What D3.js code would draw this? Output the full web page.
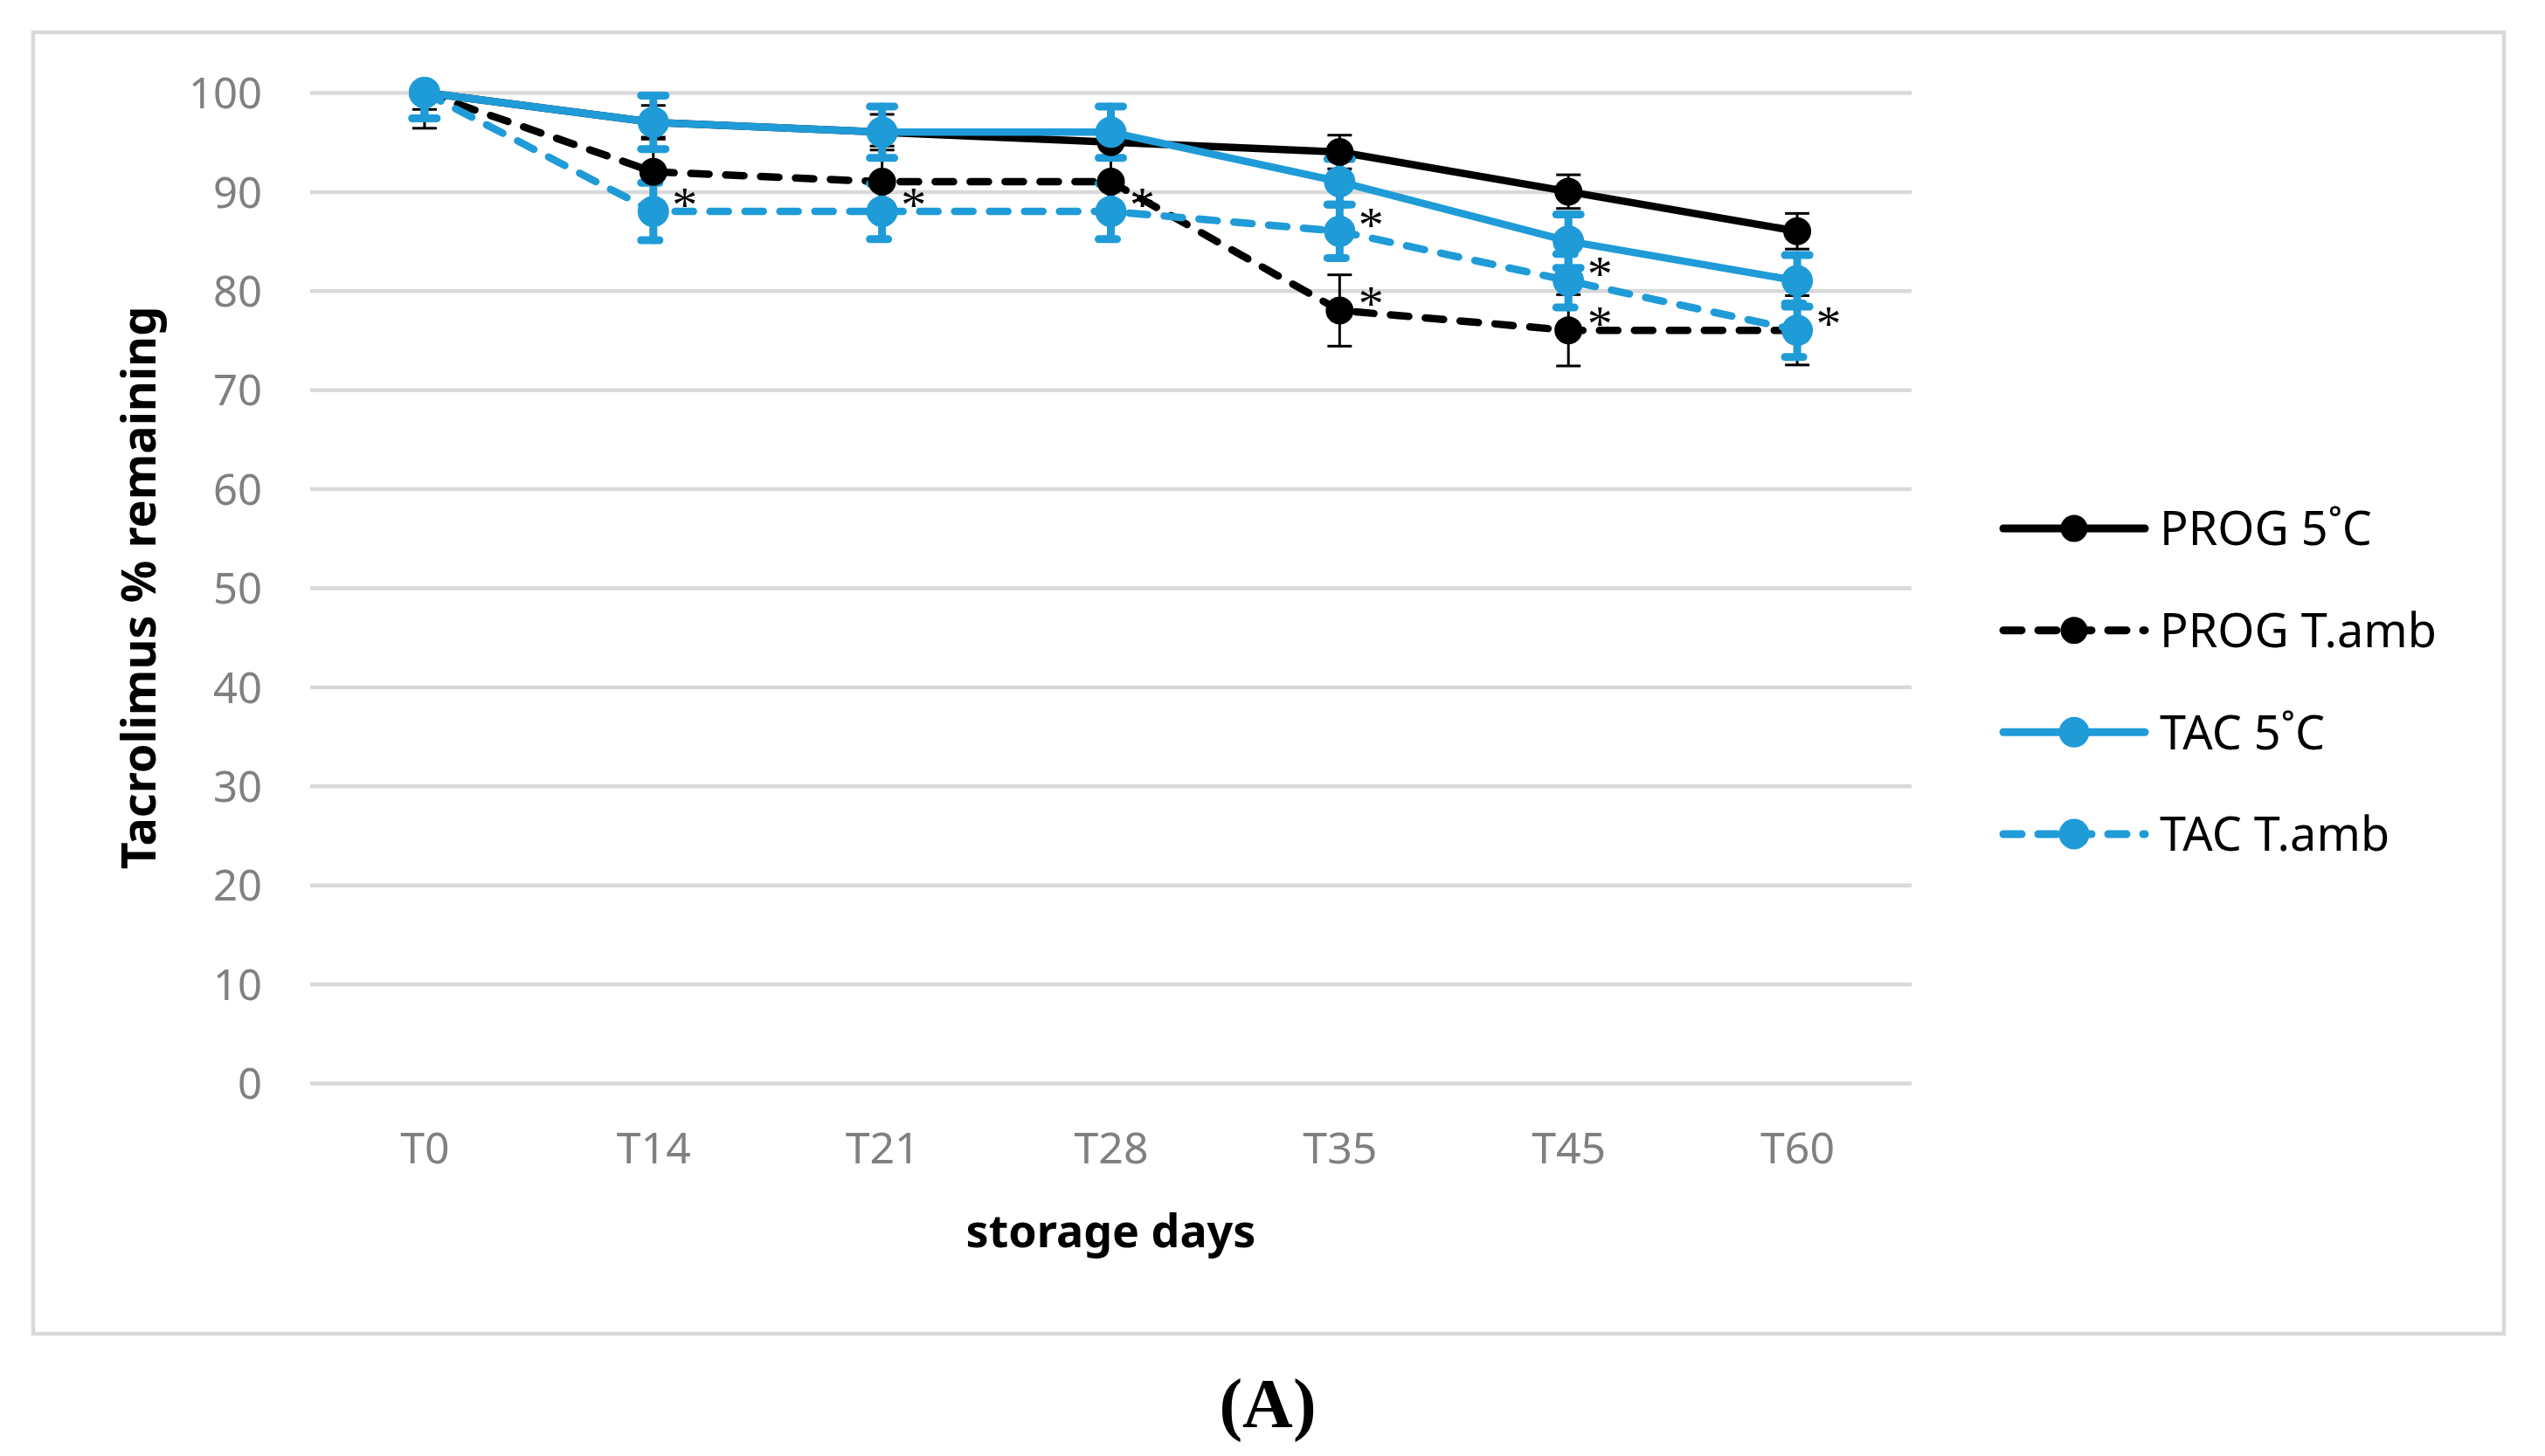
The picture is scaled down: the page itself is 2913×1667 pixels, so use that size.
<!DOCTYPE html>
<html>
<head>
<meta charset="utf-8">
<script src="https://cdn.jsdelivr.net/npm/d3@7"></script>
<style>
  body { margin: 0; background: #fff; }
  #chart svg { display: block; }
</style>
</head>
<body>
<div id="chart"></div>
<script>
// data
const categories = ["T0", "T14", "T21", "T28", "T35", "T45", "T60"];
const yTicks = [0, 10, 20, 30, 40, 50, 60, 70, 80, 90, 100];

const prog5 = [100, 97, 96, 95, 94, 90, 86];
const prog5Err = [1.7, 1.7, 1.8, 1.7, 1.7, 1.7, 1.8];
const progAmb = [100, 92, 91, 91, 78, 76, 76];
const progAmbErr = [3.6, 3.5, 3.6, 3.6, 3.6, 3.6, 3.5];
const tac5 = [100, 97, 96, 96, 91, 85, 81];
const tac5Err = [2.6, 2.7, 2.6, 2.6, 2.3, 2.7, 2.6];
const tacAmb = [100, 88, 88, 88, 86, 81, 76];
const tacAmbErr = [2.6, 2.9, 2.8, 2.8, 2.7, 2.7, 2.7];

const seriesNames = ["PROG 5˚C", "PROG T.amb", "TAC 5˚C", "TAC T.amb"];

// significance marks (series, day)
const starSeries = ["TAC T.amb", "TAC T.amb", "TAC T.amb", "TAC T.amb", "PROG T.amb", "TAC T.amb", "PROG T.amb", "TAC T.amb"];
const starDays = ["T14", "T21", "T28", "T35", "T35", "T45", "T45", "T60"];

const BLUE = "#1f9bd7";
const GRID = "#d9d9d9";
const SANS = "'Noto Sans', sans-serif";
const SERIF = "'Liberation Serif', 'Times New Roman', serif";

const series = [
  { name: seriesNames[0], values: prog5, err: prog5Err, color: "#000", dash: null, r: 16, thinErr: true },
  { name: seriesNames[1], values: progAmb, err: progAmbErr, color: "#000", dash: "21,19", r: 16, thinErr: true },
  { name: seriesNames[2], values: tac5, err: tac5Err, color: BLUE, dash: null, r: 18, thinErr: false },
  { name: seriesNames[3], values: tacAmb, err: tacAmbErr, color: BLUE, dash: "21,19", r: 18, thinErr: false }
];

// 1) SVG
const width = 2913;
const height = 1667;
const plot = { left: 355, right: 2188, top: 106, bottom: 1240 };

const svg = d3
  .select("#chart")
  .append("svg")
  .attr("width", width)
  .attr("height", height)
  .style("font-family", SANS);

svg.append("rect").attr("width", width).attr("height", height).attr("fill", "#fff");

// chart frame
svg
  .append("rect")
  .attr("x", 38)
  .attr("y", 37)
  .attr("width", 2866 - 38)
  .attr("height", 1527 - 37)
  .attr("fill", "none")
  .attr("stroke", GRID)
  .attr("stroke-width", 4.5);

// 2) Scales
const x = d3.scalePoint().domain(categories).range([plot.left, plot.right]).padding(0.5);
const y = d3.scaleLinear().domain([0, 100]).range([plot.bottom, plot.top]);

// 3) Gridlines + y labels
const yAxis = svg
  .append("g")
  .attr("transform", `translate(${plot.left},0)`)
  .call(
    d3.axisLeft(y)
      .tickValues(yTicks)
      .tickSize(-(plot.right - plot.left))
      .tickPadding(55)
  );
yAxis.select(".domain").remove();
yAxis.selectAll("line").attr("stroke", GRID).attr("stroke-width", 4.5);
yAxis
  .selectAll("text")
  .attr("fill", "#808080")
  .style("font-family", SANS)
  .style("font-size", "49px")
  .attr("dy", "0.36em");

// 4) x labels
const xAxis = svg
  .append("g")
  .attr("transform", `translate(0,${plot.bottom})`)
  .call(d3.axisBottom(x).tickSize(0).tickPadding(56));
xAxis.select(".domain").remove();
xAxis
  .selectAll("text")
  .attr("fill", "#808080")
  .style("font-family", SANS)
  .style("font-size", "50px");

// 5) Axis titles
svg
  .append("text")
  .attr("x", (plot.left + plot.right) / 2)
  .attr("y", 1428)
  .attr("text-anchor", "middle")
  .style("font-size", "52px")
  .style("font-weight", "bold")
  .text("storage days");

svg
  .append("text")
  .attr("transform", `translate(178,${(plot.top + plot.bottom) / 2}) rotate(-90)`)
  .attr("text-anchor", "middle")
  .style("font-size", "54px")
  .style("font-weight", "bold")
  .text("Tacrolimus % remaining");

// 6) Asterisks (under the series)
svg
  .append("g")
  .selectAll("text")
  .data(starDays.map((d, i) => ({ day: d, s: series.find((s) => s.name === starSeries[i]) })))
  .join("text")
  .attr("x", (d) => x(d.day) + 36)
  .attr("y", (d) => y(d.s.values[categories.indexOf(d.day)]) + 12)
  .attr("text-anchor", "middle")
  .style("font-family", SERIF)
  .style("font-size", "58px")
  .text("*");

// 7) Lines
const line = d3
  .line()
  .x((d, i) => x(categories[i]))
  .y((d) => y(d));

svg
  .append("g")
  .selectAll("path")
  .data(series)
  .join("path")
  .attr("d", (s) => line(s.values))
  .attr("fill", "none")
  .attr("stroke", (s) => s.color)
  .attr("stroke-width", 8.5)
  .attr("stroke-linecap", "round")
  .attr("stroke-linejoin", "round")
  .attr("stroke-dasharray", (s) => s.dash);

// 8) Error bars (clipped at axis maximum like the original)
const ymax = y.domain()[1];
const errG = svg.append("g");
series.forEach((s) => {
  const g = errG.append("g")
    .attr("stroke", s.thinErr ? "#000" : s.color)
    .attr("stroke-width", s.thinErr ? 3 : 9)
    .attr("stroke-linecap", s.thinErr ? "butt" : "round")
    .attr("stroke-dasharray", s.thinErr ? null : s.dash)
    .attr("fill", "none");
  const cap = 14;
  s.values.forEach((v, i) => {
    const cx = x(categories[i]);
    const lo = v - s.err[i];
    const hi = Math.min(v + s.err[i], ymax);
    g.append("line").attr("x1", cx).attr("x2", cx).attr("y1", y(lo)).attr("y2", y(hi));
    g.append("line").attr("x1", cx - cap).attr("x2", cx + cap).attr("y1", y(lo)).attr("y2", y(lo));
    if (v + s.err[i] <= ymax) {
      g.append("line").attr("x1", cx - cap).attr("x2", cx + cap).attr("y1", y(hi)).attr("y2", y(hi));
    }
  });
});

// 9) Markers
series.forEach((s) => {
  svg
    .append("g")
    .selectAll("circle")
    .data(s.values)
    .join("circle")
    .attr("cx", (d, i) => x(categories[i]))
    .attr("cy", (d) => y(d))
    .attr("r", s.r)
    .attr("fill", s.color);
});

// 10) Legend
const legendY = d3.scalePoint().domain(seriesNames).range([605, 955]);
const legend = svg
  .append("g")
  .selectAll("g")
  .data(series)
  .join("g")
  .attr("transform", (s) => `translate(0,${legendY(s.name)})`);

legend
  .append("line")
  .attr("x1", 2293)
  .attr("x2", 2455)
  .attr("stroke", (s) => s.color)
  .attr("stroke-width", 9)
  .attr("stroke-linecap", "round")
  .attr("stroke-dasharray", (s) => s.dash);

legend
  .append("circle")
  .attr("cx", 2374)
  .attr("r", (s) => s.r - 0.5)
  .attr("fill", (s) => s.color);

legend
  .append("text")
  .attr("x", 2472)
  .attr("dy", "0.36em")
  .style("font-size", "54px")
  .text((s) => s.name);

// 11) Panel label
svg
  .append("text")
  .attr("x", 1451)
  .attr("y", 1634)
  .attr("text-anchor", "middle")
  .style("font-family", SERIF)
  .style("font-weight", "bold")
  .style("font-size", "80px")
  .text("(A)");
</script>
</body>
</html>
